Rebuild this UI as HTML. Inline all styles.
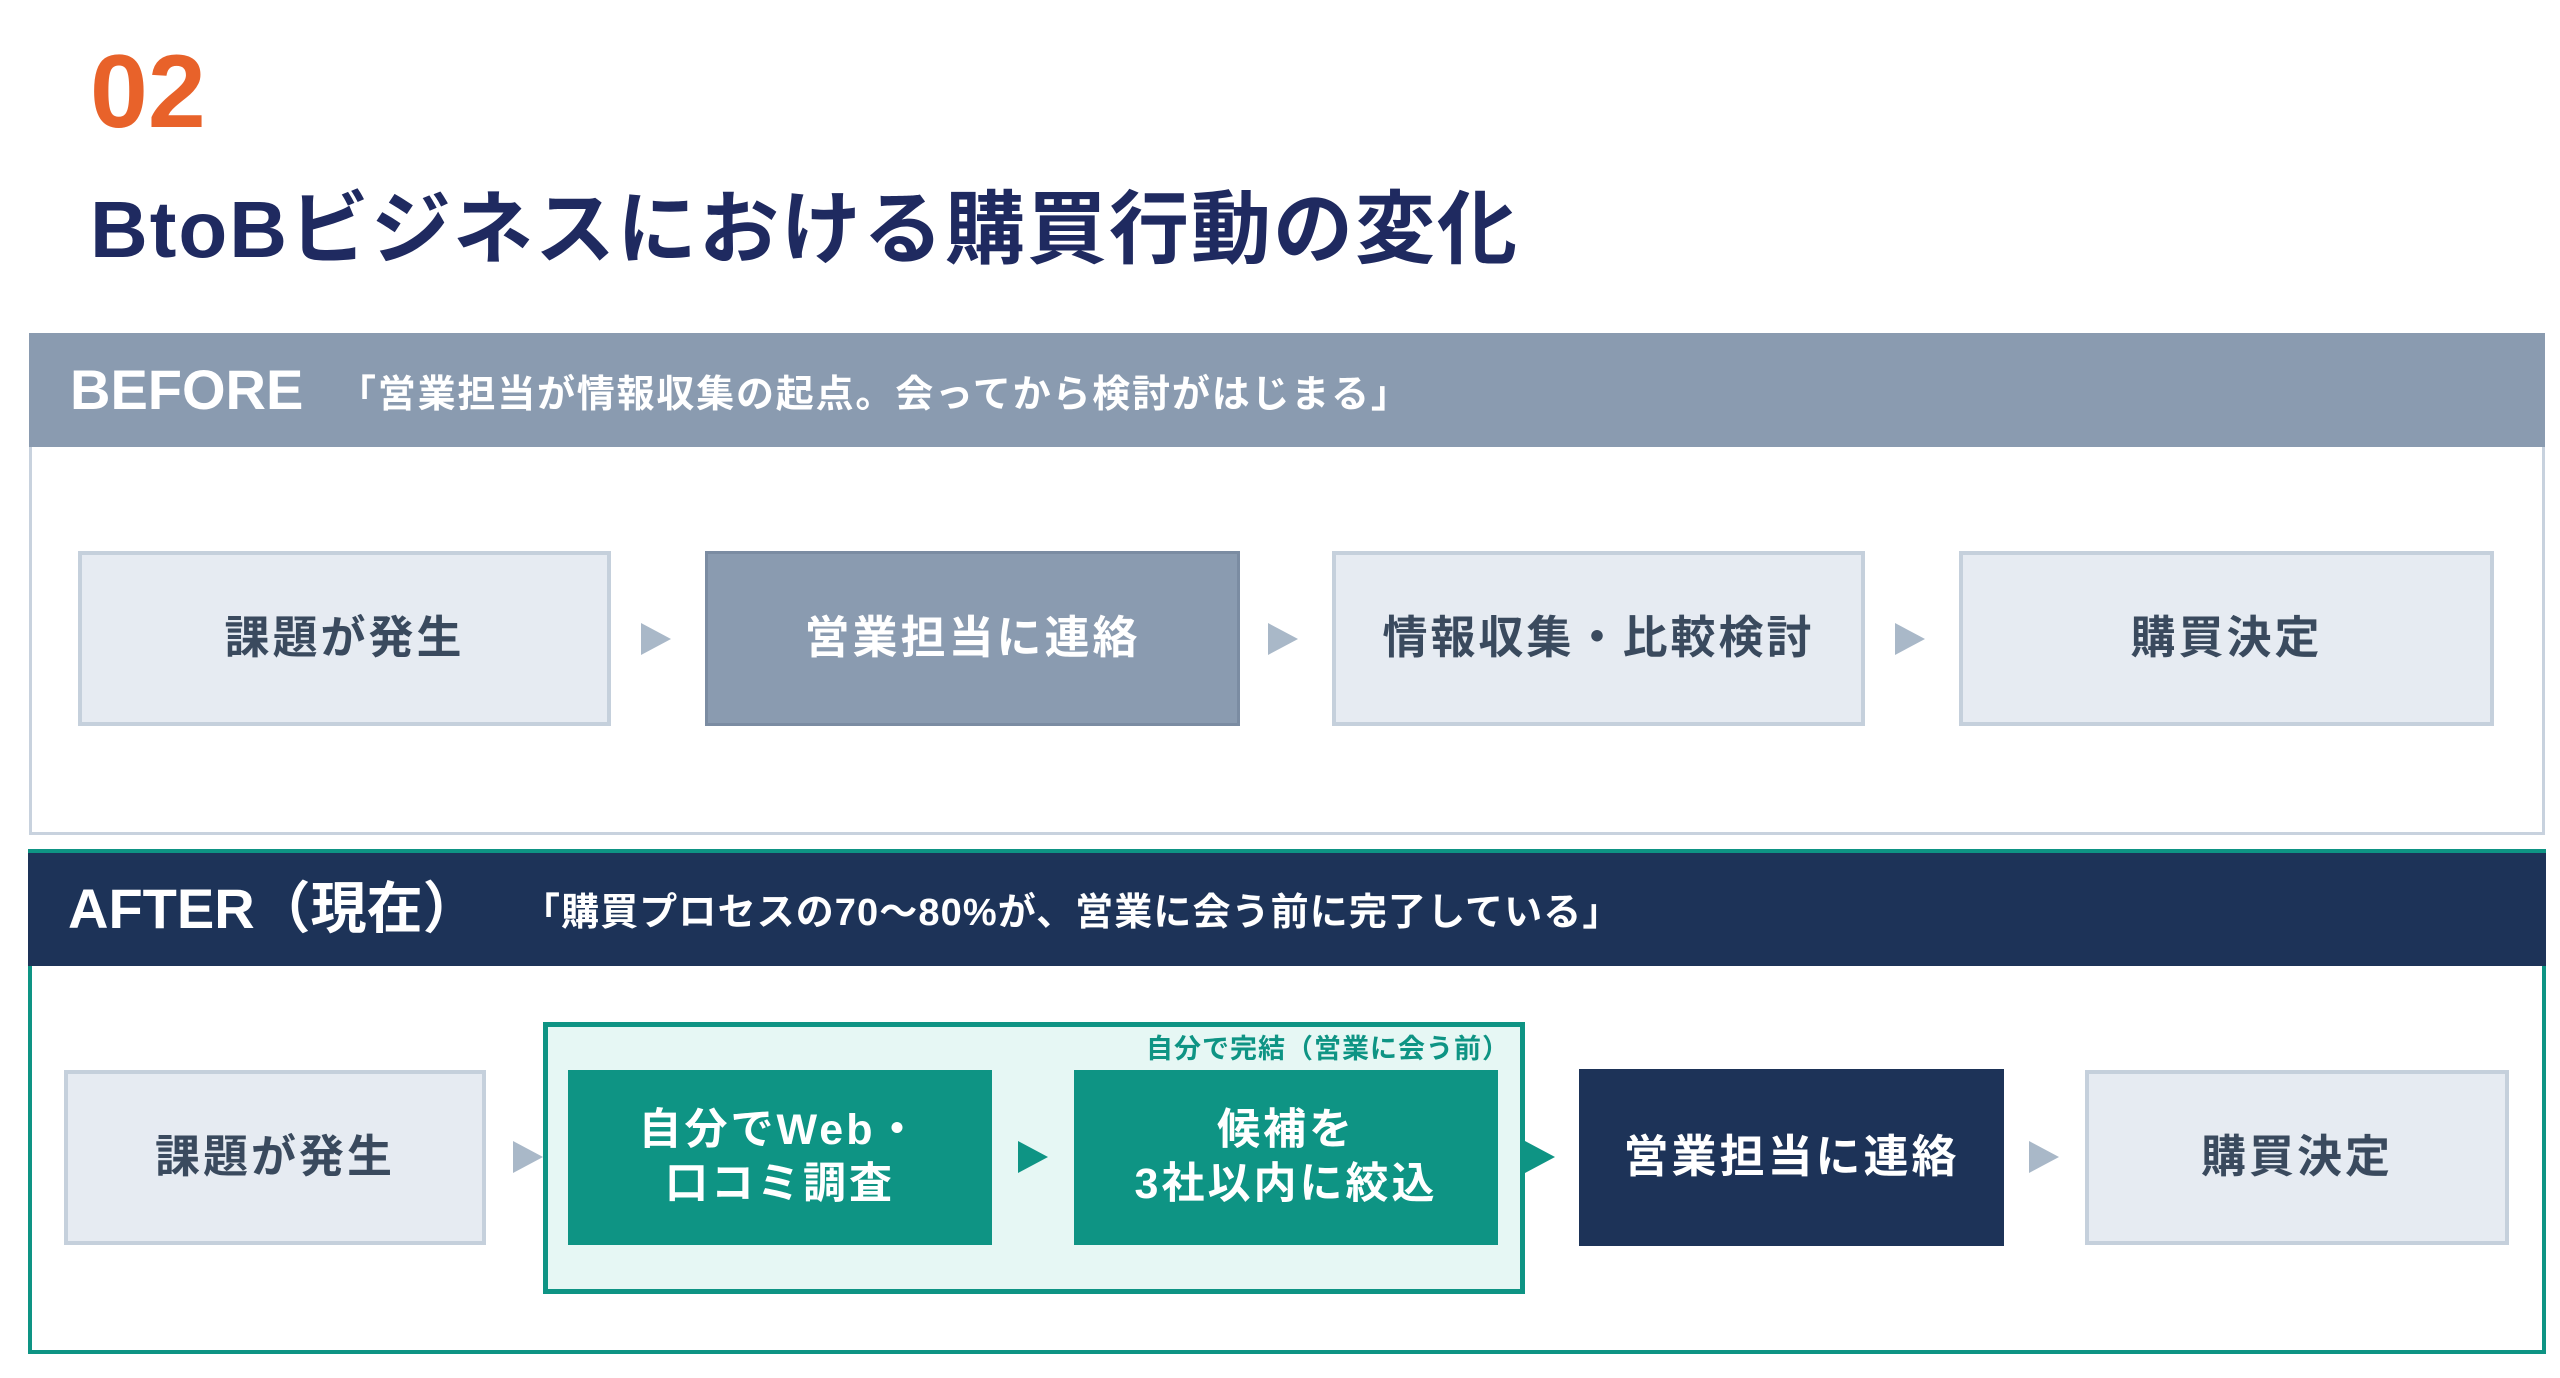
<!DOCTYPE html>
<html><head><meta charset="utf-8"><style>
*{margin:0;padding:0;box-sizing:border-box}
body{width:2560px;height:1378px;background:#fff;position:relative;overflow:hidden;font-family:"Liberation Sans","Noto Sans CJK JP",sans-serif}
.a{position:absolute}
.box{position:absolute;display:flex;align-items:center;justify-content:center;text-align:center;font-weight:bold;font-size:45px;line-height:1.25;letter-spacing:3px}
.lt{background:#E6EBF2;border:4px solid #C5D0DC;color:#3A4A5E}
.arr{position:absolute;width:0;height:0;border-top:16px solid transparent;border-bottom:16px solid transparent;border-left:30px solid #A9B8C8}
</style></head><body>
<div class="a" style="left:90px;top:40px;font-size:104px;font-weight:bold;color:#E8622A;line-height:1">02</div>
<div class="a" style="left:90px;top:190px;font-size:80px;font-weight:bold;color:#1F2A60;line-height:1;white-space:nowrap;letter-spacing:2px">BtoBビジネスにおける購買行動の変化</div>

<!-- BEFORE -->
<div class="a" style="left:29px;top:333px;width:2516px;height:502px;border:3px solid #C8D2DE;border-top:none;background:#fff"></div>
<div class="a" style="left:29px;top:333px;width:2516px;height:114px;background:#8A9BB0"></div>
<div class="a" style="left:70px;top:362px;font-size:56px;font-weight:bold;color:#fff;line-height:1">BEFORE</div>
<div class="a" style="left:338px;top:376px;font-size:38px;font-weight:bold;color:#fff;line-height:1;white-space:nowrap;letter-spacing:1.8px">「営業担当が情報収集の起点。会ってから検討がはじまる」</div>

<div class="box lt" style="left:78px;top:551px;width:533px;height:175px">課題が発生</div>
<div class="arr" style="left:641px;top:623px"></div>
<div class="box" style="left:705px;top:551px;width:535px;height:175px;background:#8A9BB0;border:3px solid #7B8CA2;color:#fff">営業担当に連絡</div>
<div class="arr" style="left:1268px;top:623px"></div>
<div class="box lt" style="left:1332px;top:551px;width:533px;height:175px">情報収集・比較検討</div>
<div class="arr" style="left:1895px;top:623px"></div>
<div class="box lt" style="left:1959px;top:551px;width:535px;height:175px">購買決定</div>

<!-- AFTER -->
<div class="a" style="left:28px;top:849px;width:2518px;height:505px;border:4px solid #0E9484;background:#fff"></div>
<div class="a" style="left:28px;top:849px;width:2518px;height:117px;background:#1D3358;border-top:4px solid #0E9484"></div>
<div class="a" style="left:68px;top:881px;font-size:56px;font-weight:bold;color:#fff;line-height:1;white-space:nowrap">AFTER（現在）</div>
<div class="a" style="left:522px;top:894px;font-size:38px;font-weight:bold;color:#fff;line-height:1;white-space:nowrap;letter-spacing:1.1px">「購買プロセスの70〜80%が、営業に会う前に完了している」</div>

<div class="box lt" style="left:64px;top:1070px;width:422px;height:175px">課題が発生</div>
<div class="arr" style="left:513px;top:1141px"></div>
<div class="a" style="left:543px;top:1022px;width:982px;height:272px;background:#E6F7F4;border:5px solid #0E9484"></div>
<div class="a" style="left:1095px;top:1036px;width:415px;text-align:right;font-size:27px;font-weight:bold;color:#0E9484;white-space:nowrap;line-height:1;letter-spacing:1px">自分で完結（営業に会う前）</div>
<div class="box" style="left:568px;top:1070px;width:424px;height:175px;background:#0E9484;color:#fff;font-size:43px">自分でWeb・<br>口コミ調査</div>
<div class="arr" style="left:1018px;top:1141px;border-left-color:#0E9484"></div>
<div class="box" style="left:1074px;top:1070px;width:424px;height:175px;background:#0E9484;color:#fff;font-size:43px">候補を<br>3社以内に絞込</div>
<div class="arr" style="left:1525px;top:1141px;border-left-color:#0E9484"></div>
<div class="box" style="left:1579px;top:1069px;width:425px;height:177px;background:#1D3358;color:#fff">営業担当に連絡</div>
<div class="arr" style="left:2029px;top:1141px"></div>
<div class="box lt" style="left:2085px;top:1070px;width:424px;height:175px">購買決定</div>
</body></html>
